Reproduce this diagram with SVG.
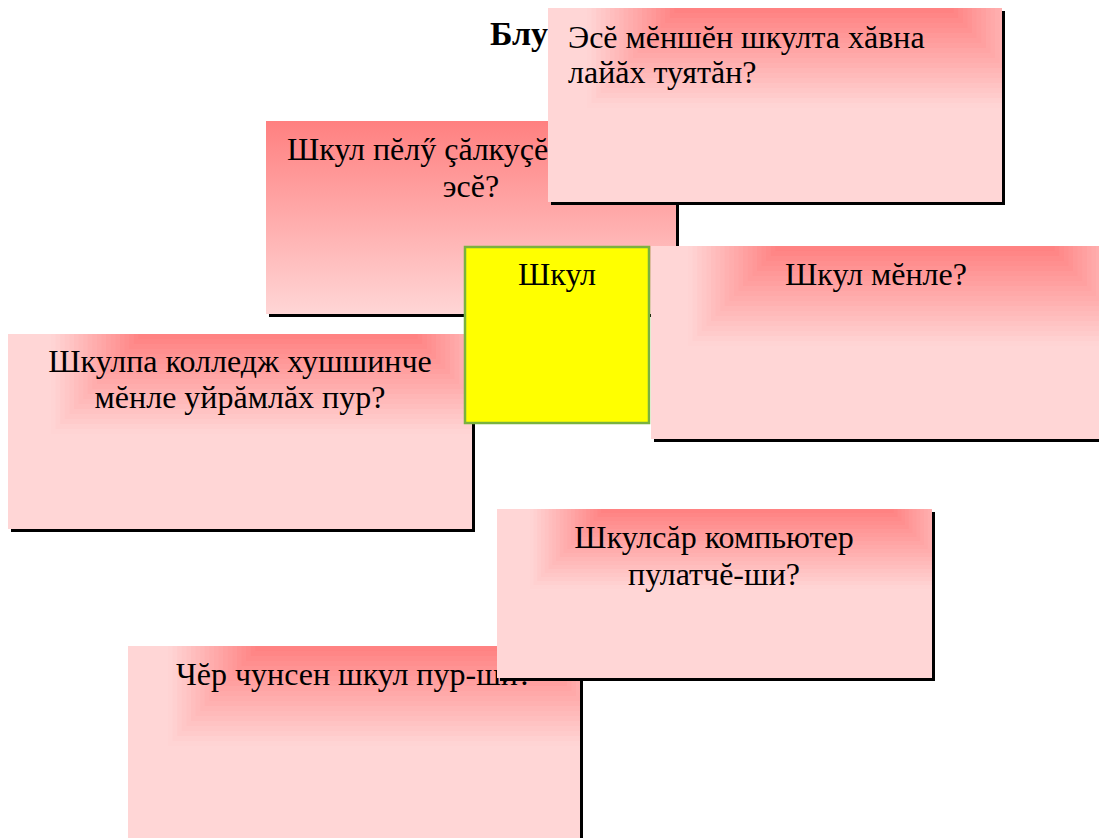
<svg xmlns="http://www.w3.org/2000/svg" xmlns:xlink="http://www.w3.org/1999/xlink" width="1099" height="838" viewBox="0 0 1099 838">
<style>
.t{font-family:"Liberation Serif","Times New Roman",serif;font-size:32px;fill:#000}
.m{text-anchor:middle}
.title{font-family:"Liberation Serif","Times New Roman",serif;font-size:34px;font-weight:bold;fill:#000}
.sh{fill:#000}
.bx{fill:#FFD6D6}
.g1{fill:#FFD4D4}.g2{fill:#FFD0D0}.g3{fill:#FFCBCB}.g4{fill:#FFC7C7}.g5{fill:#FFC3C3}
.g6{fill:#FFBEBE}.g7{fill:#FFBABA}.g8{fill:#FFB6B6}.g9{fill:#FFB1B1}.g10{fill:#FFADAD}
.g11{fill:#FFA9A9}.g12{fill:#FFA5A5}.g13{fill:#FFA0A0}.g14{fill:#FF9C9C}.g15{fill:#FF9898}
.g16{fill:#FF9393}.g17{fill:#FF8F8F}.g18{fill:#FF8B8B}.g19{fill:#FF8686}.g20{fill:#FF8282}
</style>
<defs>
<linearGradient id="lin" x1="0" y1="0" x2="0" y2="1">
<stop offset="0" stop-color="#FF8080"/>
<stop offset="1" stop-color="#FFD6D6"/>
</linearGradient>
<g id="burstA">
<rect class="g1" x="-92" y="0" width="454" height="100"/>
<rect class="g2" x="-87.4" y="0" width="444.8" height="95"/>
<rect class="g3" x="-82.8" y="0" width="435.6" height="90"/>
<rect class="g4" x="-78.2" y="0" width="426.4" height="85"/>
<rect class="g5" x="-73.6" y="0" width="417.2" height="80"/>
<rect class="g6" x="-69" y="0" width="408" height="75"/>
<rect class="g7" x="-64.4" y="0" width="398.8" height="70"/>
<rect class="g8" x="-59.8" y="0" width="389.6" height="65"/>
<rect class="g9" x="-55.2" y="0" width="380.4" height="60"/>
<rect class="g10" x="-50.6" y="0" width="371.2" height="55"/>
<rect class="g11" x="-46" y="0" width="362" height="50"/>
<rect class="g12" x="-41.4" y="0" width="352.8" height="45"/>
<rect class="g13" x="-36.8" y="0" width="343.6" height="40"/>
<rect class="g14" x="-32.2" y="0" width="334.4" height="35"/>
<rect class="g15" x="-27.6" y="0" width="325.2" height="30"/>
<rect class="g16" x="-23" y="0" width="316" height="25"/>
<rect class="g17" x="-18.4" y="0" width="306.8" height="20"/>
<rect class="g18" x="-13.8" y="0" width="297.6" height="15"/>
<rect class="g19" x="-9.2" y="0" width="288.4" height="10"/>
<rect class="g20" x="-4.6" y="0" width="279.2" height="5"/>
</g>
<g id="burstB">
<rect class="g1" x="-75.2" y="0" width="435.4" height="80"/>
<rect class="g2" x="-71.4" y="0" width="427.9" height="76"/>
<rect class="g3" x="-67.7" y="0" width="420.4" height="72"/>
<rect class="g4" x="-63.9" y="0" width="412.8" height="68"/>
<rect class="g5" x="-60.2" y="0" width="405.3" height="64"/>
<rect class="g6" x="-56.4" y="0" width="397.8" height="60"/>
<rect class="g7" x="-52.6" y="0" width="390.3" height="56"/>
<rect class="g8" x="-48.9" y="0" width="382.8" height="52"/>
<rect class="g9" x="-45.1" y="0" width="375.2" height="48"/>
<rect class="g10" x="-41.4" y="0" width="367.7" height="44"/>
<rect class="g11" x="-37.6" y="0" width="360.2" height="40"/>
<rect class="g12" x="-33.8" y="0" width="352.7" height="36"/>
<rect class="g13" x="-30.1" y="0" width="345.2" height="32"/>
<rect class="g14" x="-26.3" y="0" width="337.6" height="28"/>
<rect class="g15" x="-22.6" y="0" width="330.1" height="24"/>
<rect class="g16" x="-18.8" y="0" width="322.6" height="20"/>
<rect class="g17" x="-15" y="0" width="315.1" height="16"/>
<rect class="g18" x="-11.3" y="0" width="307.6" height="12"/>
<rect class="g19" x="-7.5" y="0" width="300" height="8"/>
<rect class="g20" x="-3.8" y="0" width="292.5" height="4"/>
</g>
<clipPath id="c1"><rect x="548" y="8" width="454" height="194"/></clipPath>
<clipPath id="c4"><rect x="651" y="246" width="464" height="193"/></clipPath>
<clipPath id="c5"><rect x="8" y="334" width="464" height="195"/></clipPath>
<clipPath id="c6"><rect x="497" y="509" width="435" height="169"/></clipPath>
<clipPath id="c7"><rect x="128" y="646" width="452" height="195"/></clipPath>
</defs>

<text class="title" x="490" y="45">Блу</text>

<g id="node-pelu">
<rect class="sh" x="269" y="124" width="410" height="193"/>
<rect x="266" y="121" width="410" height="193" fill="url(#lin)"/>
<text class="t" x="287" y="160">Шкул пĕлӳ çăлкуçĕ</text>
<text class="t m" x="471" y="197">эсĕ?</text>
</g>

<g id="node-ese">
<rect class="sh" x="551" y="11" width="454" height="194"/>
<rect class="bx" x="548" y="8" width="454" height="194"/>
<g clip-path="url(#c1)"><use xlink:href="#burstA" transform="translate(679,8)"/></g>
<text class="t" x="568" y="48">Эсĕ мĕншĕн шкулта хăвна</text>
<text class="t" x="568" y="83">лайăх туятăн?</text>
</g>

<g id="node-kolledzh">
<rect class="sh" x="11" y="337" width="464" height="195"/>
<rect class="bx" x="8" y="334" width="464" height="195"/>
<g clip-path="url(#c5)"><use xlink:href="#burstA" transform="translate(143,334)"/></g>
<text class="t m" x="240" y="372">Шкулпа колледж хушшинче</text>
<text class="t m" x="240" y="408">мĕнле уйрăмлăх пур?</text>
</g>

<g id="node-shkul">
<rect x="465" y="247" width="184" height="176" fill="#FFFF00" stroke="#7AB23F" stroke-width="2.5"/>
<text class="t m" x="557" y="285">Шкул</text>
</g>

<g id="node-menle">
<rect class="sh" x="654" y="249" width="464" height="193"/>
<rect class="bx" x="651" y="246" width="464" height="193"/>
<g clip-path="url(#c4)"><use xlink:href="#burstA" transform="translate(780,246)"/></g>
<text class="t m" x="876" y="285">Шкул мĕнле?</text>
</g>

<g id="node-chunsen">
<rect class="sh" x="131" y="649" width="452" height="195"/>
<rect class="bx" x="128" y="646" width="452" height="195"/>
<g clip-path="url(#c7)"><use xlink:href="#burstA" transform="translate(260,646)"/></g>
<text class="t m" x="354" y="685">Чĕр чунсен шкул пур-ши?</text>
</g>

<g id="node-kompyuter">
<rect class="sh" x="500" y="512" width="435" height="169"/>
<rect class="bx" x="497" y="509" width="435" height="169"/>
<g clip-path="url(#c6)"><use xlink:href="#burstB" transform="translate(605,509)"/></g>
<text class="t m" x="714" y="548">Шкулсăр компьютер</text>
<text class="t m" x="714" y="585">пулатчĕ-ши?</text>
</g>

<g id="connectors"></g>
</svg>
